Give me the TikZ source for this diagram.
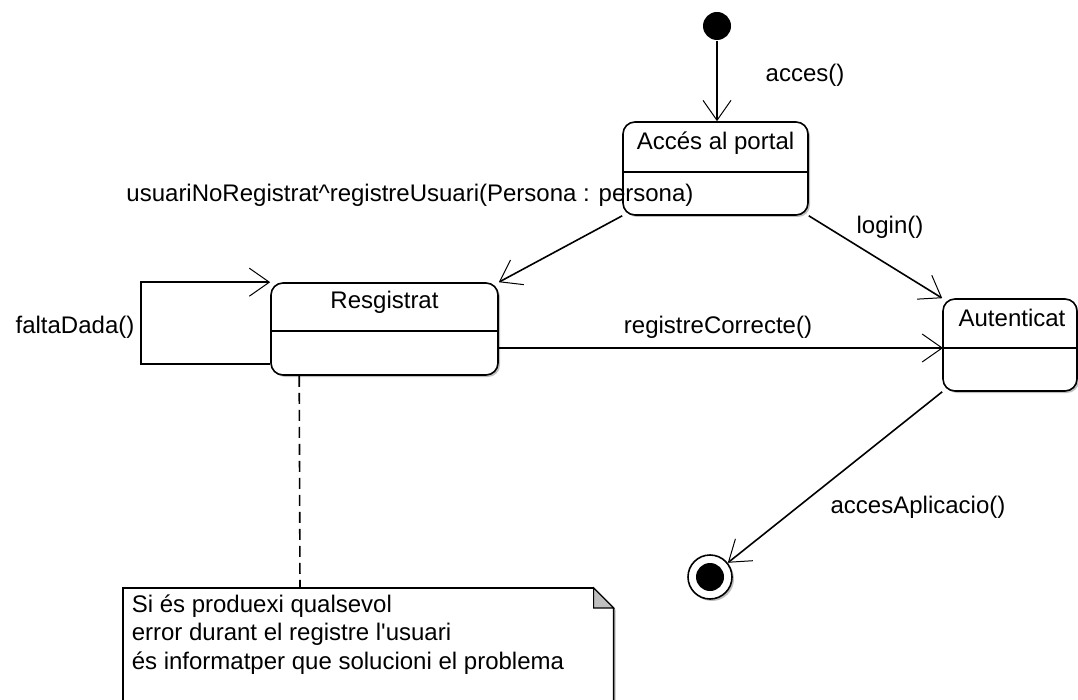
\documentclass[tikz,border=0pt]{standalone}
\usepackage{fontspec}
\setmainfont{Liberation Sans}
\usetikzlibrary{arrows.meta,shadows,calc}

\begin{document}
\begin{tikzpicture}[x=1pt,y=-1pt,
  font=\fontsize{24}{28}\selectfont,
  line width=1.6pt,
  shadowed/.style={drop shadow={shadow xshift=2pt, shadow yshift=-2pt, opacity=0.25, fill=black}},
  state/.style={draw, rounded corners=12pt, fill=white, inner sep=0pt, shadowed},
  trans/.style={draw, -{Straight Barb[length=20pt,width=28pt,line width=1pt]}},
  lbl/.style={inner sep=0pt},
  notelink/.style={draw, dash pattern=on 11pt off 6pt},
]
\useasboundingbox (0,0) rectangle (1078,700);

% initial and final pseudo-states
\node[circle, fill=black, minimum size=28pt, inner sep=0pt] (init) at (717,26) {};
\node[circle, draw, fill=white, minimum size=44pt, inner sep=0pt, shadowed] (fin) at (710,577) {};
\fill (fin.center) circle (14);

% states
\node[state, minimum width=185pt, minimum height=93pt] (acc) at (715.5,168.5) {};
\draw (acc.west |- 0,172) -- (acc.east |- 0,172);
\node[lbl] (acctxt) at (715.5,143) {Accés al portal};

\node[state, minimum width=227pt, minimum height=92pt] (res) at (384.5,329) {};
\draw (res.west |- 0,331) -- (res.east |- 0,331);
\node[lbl] (restxt) at (384.5,302) {Resgistrat};

\node[state, minimum width=134pt, minimum height=92pt] (aut) at (1010,345) {};
\coordinate (autdiv) at (943,348);
\draw (autdiv) -- (aut.east |- autdiv);
\node[lbl] (auttxt) at (1012,318) {Autenticat};

% note
\node[inner sep=0pt, minimum width=489pt, minimum height=130pt, anchor=north west] (note) at (123,588) {};
\filldraw[fill=white, shadowed] (note.north west) -- ($(note.north east)+(-20,0)$) -- ($(note.north east)+(0,20)$)
  -- (note.south east) -- (note.south west) -- cycle;
\filldraw[fill=black!25, line width=1.2pt] ($(note.north east)+(-20,0)$) -- ($(note.north east)+(-20,20)$)
  -- ($(note.north east)+(0,20)$) -- cycle;
\node[lbl, anchor=north west, align=left, font=\fontsize{24}{28.5}\selectfont] (notetxt) at (131,594)
  {Si és produexi qualsevol\\error durant el registre l\textquotesingle usuari\\és informatper que solucioni el problema};
\draw[notelink] ($(res.south west)+(29,0)$) -- ($(note.north west)+(177,0)$);

% transitions
\draw[trans] (init) -- (init |- acc.north);
\draw[trans] (acc.south west) -- (res.north east);
\draw[trans] (acc.south east) -- (aut.north west);
\draw[trans] (res.east |- autdiv) -- (autdiv);
\draw[trans] ($(res.south west)+(0,-12)$) -- ++(-129,0) |- (res.north west);
\draw[trans] (aut.south west) -- (fin);

% transition labels
\node[lbl] (l1) at (805,75) {acces()};
\node[lbl] (l2) at (410,195) {usuariNoRegistrat\textasciicircum registreUsuari(Persona : persona)};
\node[lbl] (l3) at (890,227) {login()};
\node[lbl] (l4) at (75,327) {faltaDada()};
\node[lbl] (l5) at (718,327) {registreCorrecte()};
\node[lbl] (l6) at (918,507) {accesAplicacio()};
\end{tikzpicture}
\end{document}
